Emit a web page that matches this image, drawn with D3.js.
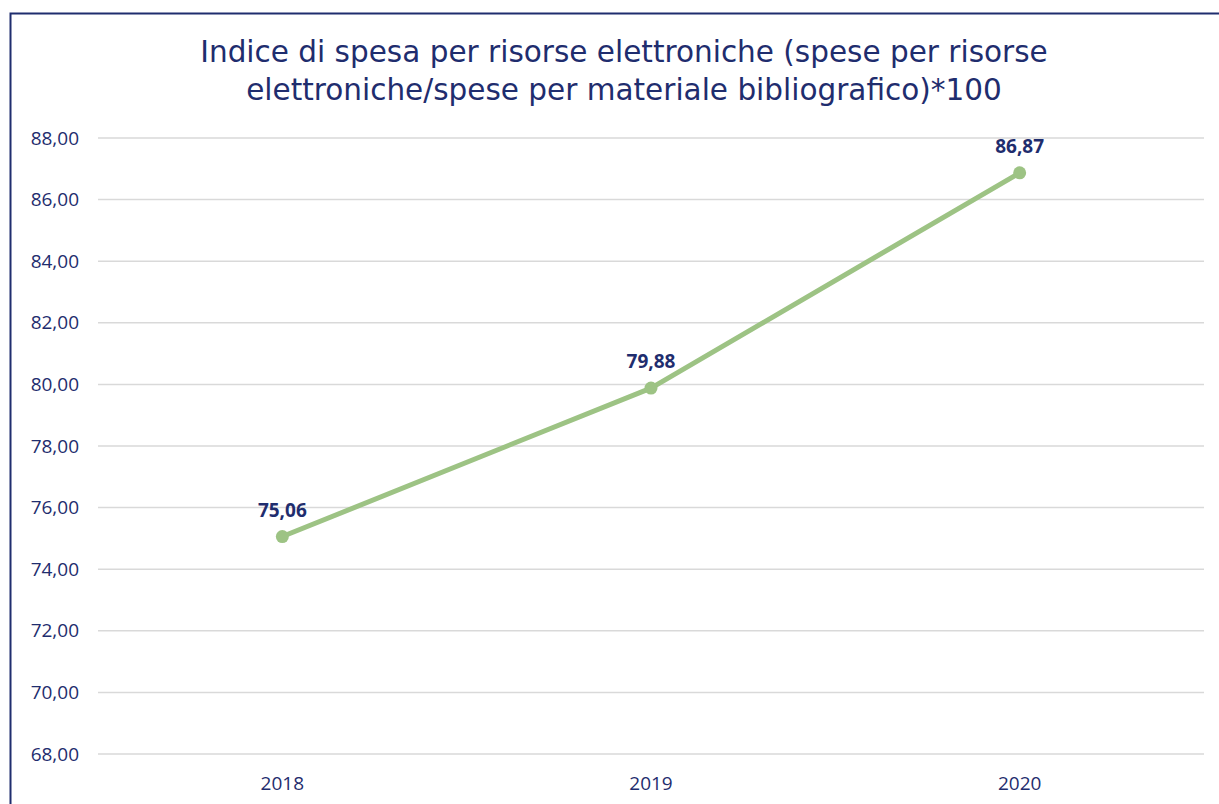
<!DOCTYPE html>
<html>
<head>
<meta charset="utf-8">
<script src="https://cdn.jsdelivr.net/npm/d3@7"></script>
<style>
  body { margin: 0; background: #fff; }
  svg { display: block; }
</style>
</head>
<body>
<svg id="chart" width="1219" height="804"></svg>
<script>
// data
const years = ["2018", "2019", "2020"];
const values = [75.06, 79.88, 86.87];
const yTicks = [68, 70, 72, 74, 76, 78, 80, 82, 84, 86, 88];
const titleLines = [
    "Indice di spesa per risorse elettroniche (spese per risorse",
    "elettroniche/spese per materiale bibliografico)*100"
];

const navy = "#1f2d6e";
const green = "#9dc384";
const font = "'Open Sans', 'DejaVu Sans', sans-serif";

let svg = d3.select("#chart");

// outer frame (only top and left visible in the crop)
svg.append("rect")
    .attr("x", 10.5)
    .attr("y", 13.5)
    .attr("width", 1300)
    .attr("height", 900)
    .attr("fill", "none")
    .attr("stroke", navy)
    .attr("stroke-width", 2);

let margin = { top: 138, left: 98, right: 15, bottom: 50 };
let width = 1219 - margin.left - margin.right;
let height = 754 - margin.top;

let x = d3.scaleBand()
    .domain(years)
    .range([0, width]);

let y = d3.scaleLinear()
    .domain([68, 88])
    .range([height, 0]);

// title
svg.append("g").selectAll("text")
    .data(titleLines)
    .join("text")
    .attr("x", 624)
    .attr("y", (d, i) => 62 + i * 38)
    .attr("text-anchor", "middle")
    .attr("fill", navy)
    .style("font-family", "'DejaVu Sans', sans-serif")
    .style("font-size", "29.5px")
    .text(d => d);

let g = svg.append("g")
    .attr("transform", "translate(" + margin.left + "," + margin.top + ")");

// gridlines
g.append("g")
    .selectAll("line")
    .data(yTicks)
    .join("line")
    .attr("x1", 0)
    .attr("x2", width)
    .attr("y1", d => y(d))
    .attr("y2", d => y(d))
    .attr("stroke", "#d9d9d9")
    .attr("stroke-width", 1.5);

let fmt = d => d.toFixed(2).replace(".", ",");

// y axis
let yAxis = g.append("g")
    .call(d3.axisLeft(y).tickValues(yTicks).tickFormat(fmt).tickSize(0).tickPadding(19));
yAxis.select(".domain").remove();
yAxis.selectAll("text")
    .attr("fill", navy)
    .style("font-family", font)
    .style("font-size", "19px");

// x axis
let xAxis = g.append("g")
    .attr("transform", "translate(0," + height + ")")
    .call(d3.axisBottom(x).tickSize(0).tickPadding(23));
xAxis.select(".domain").remove();
xAxis.selectAll("text")
    .attr("fill", navy)
    .style("font-family", font)
    .style("font-size", "19px");

let pts = years.map((yr, i) => ({ year: yr, value: values[i] }));
let cx = d => x(d.year) + x.bandwidth() / 2;

let line = d3.line()
    .x(cx)
    .y(d => y(d.value));

g.append("path")
    .datum(pts)
    .attr("fill", "none")
    .attr("stroke", green)
    .attr("stroke-width", 5)
    .attr("stroke-linejoin", "round")
    .attr("d", line);

g.selectAll(".dot")
    .data(pts)
    .join("circle")
    .attr("class", "dot")
    .attr("cx", cx)
    .attr("cy", d => y(d.value))
    .attr("r", 6.5)
    .attr("fill", green);

// data labels
g.selectAll(".lbl")
    .data(pts)
    .join("text")
    .attr("class", "lbl")
    .attr("x", cx)
    .attr("y", d => y(d.value) - 20)
    .attr("text-anchor", "middle")
    .attr("fill", navy)
    .style("font-family", font)
    .style("font-size", "19px")
    .style("font-weight", "bold")
    .text(d => fmt(d.value));
</script>
</body>
</html>
